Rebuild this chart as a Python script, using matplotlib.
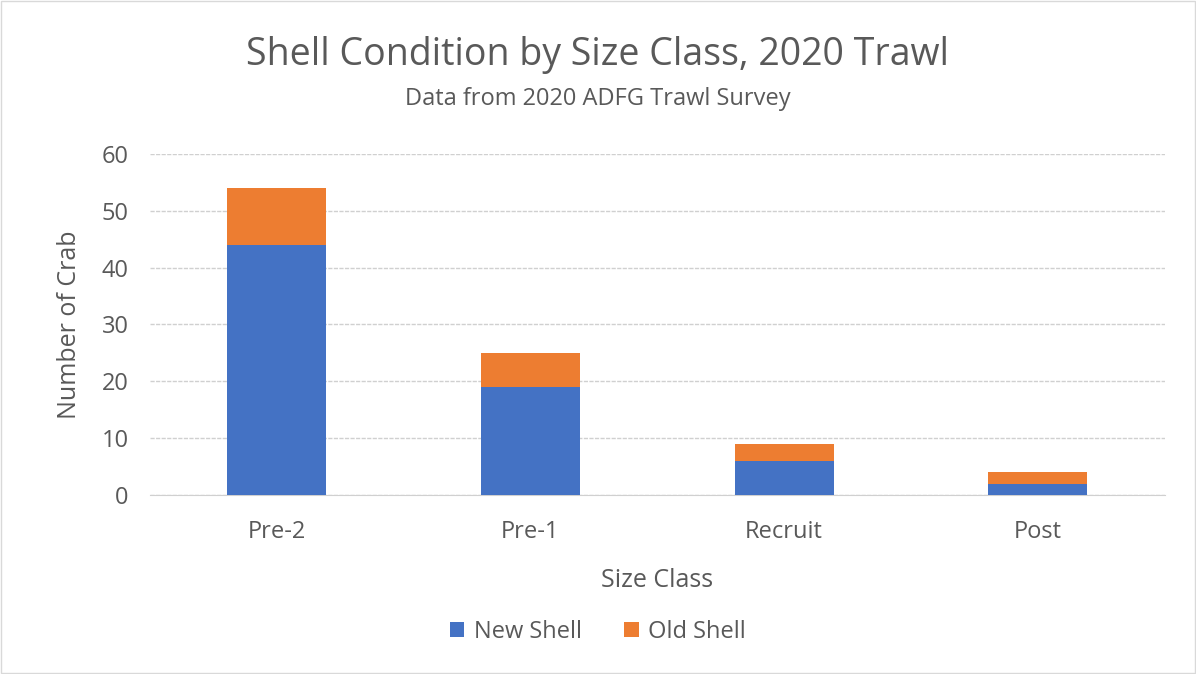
import numpy as np
import matplotlib.pyplot as plt
from matplotlib.patches import Rectangle

size_classes = ['Pre-2', 'Pre-1', 'Recruit', 'Post']
new_shell = [44, 19, 6, 2]
old_shell = [10, 6, 3, 2]

blue = '#4472C4'
orange = '#ED7D31'
grey_txt = '#595959'

plt.rcParams['font.family'] = ['Open Sans', 'DejaVu Sans']

fig = plt.figure(figsize=(11.96, 6.74), dpi=100)
ax = fig.add_axes([0.125, 0.2656, 0.849, 0.506])

x = np.arange(len(size_classes))
ax.bar(x, new_shell, width=0.39, color=blue, label='New Shell', zorder=3)
ax.bar(x, old_shell, width=0.39, bottom=new_shell, color=orange, label='Old Shell', zorder=3)

ax.set_xlim(-0.5, len(size_classes) - 0.5)
ax.set_ylim(0, 60)
ax.set_yticks(range(0, 61, 10))
ax.set_xticks(x)
ax.set_xticklabels(size_classes)
ax.tick_params(axis='both', length=0, labelsize=17, colors=grey_txt)
ax.tick_params(axis='x', pad=18)
ax.tick_params(axis='y', pad=15)
ax.grid(axis='y', color='#D0D0D0', linestyle=(0, (3, 1)), linewidth=1, zorder=0)
for s in ['top', 'right', 'left']:
    ax.spines[s].set_visible(False)
ax.spines['bottom'].set_color('#D0D0D0')
ax.spines['bottom'].set_zorder(0)

ax.set_xlabel('Size Class', fontsize=18, color=grey_txt, labelpad=17)
ax.set_ylabel('Number of Crab', fontsize=18, color=grey_txt, labelpad=14)

fig.text(0.5, 0.918, 'Shell Condition by Size Class, 2020 Trawl', ha='center', va='center',
         fontsize=27, color=grey_txt)
fig.text(0.5, 0.853, 'Data from 2020 ADFG Trawl Survey', ha='center', va='center',
         fontsize=17, color=grey_txt)

fig.legend(loc='center', bbox_to_anchor=(0.5, 0.063), ncol=2, frameon=False,
           fontsize=17, labelcolor=grey_txt, handlelength=0.6, handleheight=0.6,
           handletextpad=0.4, columnspacing=1.8)

fig.patches.append(Rectangle((0.001, 0.001), 0.998, 0.998, transform=fig.transFigure,
                             fill=False, edgecolor='#D9D9D9', linewidth=1))

fig.savefig('out.png', dpi=100)
